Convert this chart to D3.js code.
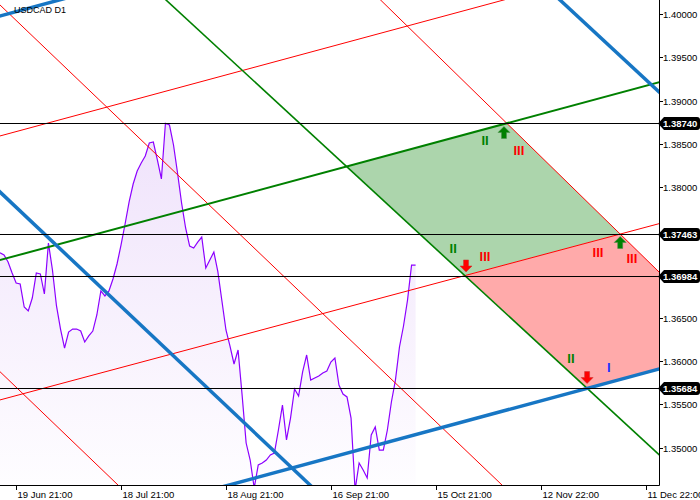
<!DOCTYPE html>
<html><head><meta charset="utf-8">
<script src="https://cdn.jsdelivr.net/npm/d3@7"></script>
<style>body{margin:0;background:#fff;} svg{display:block;font-family:"Liberation Sans",Arial,sans-serif;}</style>
</head><body><svg id="c" width="700" height="500"></svg>
<script>
// ---- data ----
const symbolTitle = "USDCAD D1";
const closes = [1.37248,1.37222,1.37141,1.37014,1.36899,1.36887,1.36622,1.36576,1.36726,1.37014,
1.37003,1.36772,1.37360,1.37049,1.36634,1.36368,1.36149,1.36334,1.36368,1.36368,
1.36345,1.36219,1.36288,1.36345,1.36530,1.36807,1.36749,1.36807,1.36945,1.37118,
1.37337,1.37579,1.37833,1.38040,1.38190,1.38282,1.38363,1.38513,1.38524,1.38317,
1.38098,1.38740,1.38720,1.38490,1.38167,1.37821,1.37533,1.37325,1.37302,1.37371,
1.37429,1.37072,1.37164,1.37256,1.37026,1.36691,1.36357,1.36172,1.35965,1.36126,
1.35608,1.35054,1.34858,1.34535,1.34801,1.34824,1.34858,1.34916,1.34939,1.35204,
1.35492,1.35089,1.35342,1.35677,1.35596,1.35873,1.36069,1.35780,1.35804,1.35827,
1.35861,1.35884,1.35988,1.36034,1.35723,1.35619,1.35585,1.35342,1.34512,1.34824,
1.34743,1.34651,1.35146,1.35239,1.34973,1.34973,1.35204,1.35527,1.35780,1.36161,
1.36403,1.36703,1.37106,1.37106];
const barDomain = [0, 163.32];
const priceDomain = [1.345700, 1.401614];
const priceTicks = [1.35,1.355,1.36,1.365,1.38,1.385,1.39,1.395,1.40];
const levels = [1.38740,1.37463,1.36984,1.35684];
const dateTickBars = [4,30,56,82,108,134,160];
const dateTickLabels = ["19 Jun 21:00","18 Jul 21:00","18 Aug 21:00","16 Sep 21:00","15 Oct 21:00","12 Nov 22:00","11 Dec 22:00"];
// lines as two points [bar, price]
const blueTop   = [[0,1.39977],[163.32,1.42028]];
const redTop    = [[0,1.38594],[163.32,1.40645]];
const greenAsc  = [[0,1.37163],[163.32,1.39214]];
const redMid    = [[115.2,1.36984],[153.7,1.37463]];
const blueBot   = [[0,1.33857],[145.5,1.35684]];
const blueDesc1 = [[0,1.37948],[163.32,1.30768]];
const blueDesc2 = [[138.79,1.401614],[163.32,1.39102]];
const greenDesc = [[115.2,1.36984],[145.5,1.35684]];
const redA      = [[0,1.40104],[124.41,1.34570]];
const redB      = [[0,1.35876],[29.24,1.34570]];
const redC      = [[125.6,1.38740],[153.7,1.37463]];
const upArrows   = [[124.9,1.38634],[153.7,1.37366]];
const downArrows = [[115.5,1.37095],[145.5,1.35809]];
const greenNumerals = [[120.2,1.38536,"II"],[112.3,1.37302,"II"],[141.5,1.36034,"II"]];
const redNumerals   = [[128.6,1.38421,"III"],[120.2,1.37199,"III"],[148.2,1.37256,"III"],[156.6,1.37187,"III"]];
const blueNumerals  = [[150.9,1.35919,"I"]];

// ---- drawing ----
const W = 659, H = 485;
const svg = d3.select("#c");
const x = d3.scaleLinear().domain(barDomain).range([0, W]);
const y = d3.scaleLinear().domain(priceDomain).range([H, 0]);

const defs = svg.append("defs");
defs.append("clipPath").attr("id","plot").append("rect").attr("x",0).attr("y",0).attr("width",W).attr("height",H);
const grad = defs.append("linearGradient").attr("id","pg").attr("gradientUnits","userSpaceOnUse")
  .attr("x1",0).attr("x2",0).attr("y1",120).attr("y2",H);
grad.append("stop").attr("offset","0").attr("stop-color","#efe2fb");
grad.append("stop").attr("offset","1").attr("stop-color","#fefdff");

const plot = svg.append("g").attr("clip-path","url(#plot)");

function priceAt(l, b){ const [[b1,p1],[b2,p2]] = l; return p1 + (p2-p1)*(b-b1)/(b2-b1); }
function inter(l1, l2){
  const s1 = (l1[1][1]-l1[0][1])/(l1[1][0]-l1[0][0]);
  const s2 = (l2[1][1]-l2[0][1])/(l2[1][0]-l2[0][0]);
  const c1 = l1[0][1]-s1*l1[0][0], c2 = l2[0][1]-s2*l2[0][0];
  const b = (c2-c1)/(s1-s2);
  return [b, c1+s1*b];
}

// price area + line
const idx = closes.map((c,i)=>i);
plot.append("path").datum(idx)
  .attr("d", d3.area().x(i=>x(i)).y0(H).y1(i=>y(closes[i])))
  .attr("fill","url(#pg)");

// zones
const bMax = barDomain[1];
const greenZone = [inter(greenAsc,greenDesc), inter(greenAsc,redC), inter(redC,redMid), inter(redMid,greenDesc)];
const redZone = [inter(redMid,greenDesc), inter(redMid,redC), [bMax, priceAt(redC,bMax)], [bMax, priceAt(blueBot,bMax)], inter(blueBot,greenDesc)];
const poly = d3.line().x(d=>x(d[0])).y(d=>y(d[1]));
plot.append("path").attr("d", poly(greenZone)+"Z").attr("fill","#acd5ac");
plot.append("path").attr("d", poly(redZone)+"Z").attr("fill","#ffaaaa");

plot.append("path").datum(idx)
  .attr("d", d3.line().x(i=>x(i)).y(i=>y(closes[i])))
  .attr("fill","none").attr("stroke","#8c00ff").attr("stroke-width",1.2);

function drawLine(l, color, width){
  const b0 = -20, b1 = 185;
  plot.append("line")
    .attr("x1", x(b0)).attr("y1", y(priceAt(l,b0)))
    .attr("x2", x(b1)).attr("y2", y(priceAt(l,b1)))
    .attr("stroke", color).attr("stroke-width", width);
}
[redTop, redMid, redA, redB, redC].forEach(l=>drawLine(l,"#ff0000",1));
[greenAsc].forEach(l=>drawLine(l,"#008000",2));
[greenDesc].forEach(l=>drawLine(l,"#008000",1.6));
[blueTop, blueBot, blueDesc1, blueDesc2].forEach(l=>drawLine(l,"#1776c4",3.5));

// horizontal levels
plot.selectAll(".lvl").data(levels).enter().append("line")
  .attr("x1",0).attr("x2",W).attr("y1",d=>Math.round(y(d))+0.5).attr("y2",d=>Math.round(y(d))+0.5)
  .attr("stroke","#000").attr("stroke-width",1);

// arrows
const upPath = "M0,-6 L6,0 L2.5,0 L2.5,6 L-2.5,6 L-2.5,0 L-6,0 Z";
const downPath = "M0,6 L6,0 L2.5,0 L2.5,-6 L-2.5,-6 L-2.5,0 L-6,0 Z";
plot.selectAll(".ua").data(upArrows).enter().append("path")
  .attr("d",upPath).attr("transform",d=>`translate(${x(d[0])},${y(d[1])})`)
  .attr("fill","#008000").attr("stroke","#4c8c4c").attr("stroke-width",0.5);
plot.selectAll(".da").data(downArrows).enter().append("path")
  .attr("d",downPath).attr("transform",d=>`translate(${x(d[0])},${y(d[1])})`)
  .attr("fill","#ff0000").attr("stroke","#c83030").attr("stroke-width",0.5);

// numerals
function numerals(arr, color){
  plot.selectAll(null).data(arr).enter().append("text")
    .attr("x",d=>x(d[0])).attr("y",d=>y(d[1])).attr("text-anchor","middle")
    .attr("dominant-baseline","central").attr("font-size",13).attr("font-weight","bold")
    .attr("fill",color).text(d=>d[2]);
}
numerals(greenNumerals,"#008000");
numerals(redNumerals,"#ff0000");
numerals(blueNumerals,"#1a33ff");

// title
svg.append("text").attr("x",14).attr("y",12.5).attr("font-size",9).attr("fill","#000").text(symbolTitle);

// axes
svg.append("line").attr("x1",W+0.5).attr("x2",W+0.5).attr("y1",0).attr("y2",H+0.5).attr("stroke","#000");
svg.append("line").attr("x1",0).attr("x2",W+0.5).attr("y1",H+0.5).attr("y2",H+0.5).attr("stroke","#000");

const yt = svg.append("g");
priceTicks.forEach(p=>{
  const py = Math.round(y(p))+0.5;
  yt.append("line").attr("x1",W).attr("x2",W+4).attr("y1",py).attr("y2",py).attr("stroke","#000");
  yt.append("text").attr("x",W+4).attr("y",py).attr("dominant-baseline","central")
    .attr("font-size",9.5).attr("fill","#000").text(p.toFixed(5));
});
levels.forEach(p=>{
  const py = Math.round(y(p))+0.5;
  yt.append("path").attr("d",`M${W-1},${py} L${W+5},${py-6.5} L${697},${py-6.5} Q700,${py-6.5} 700,${py-3.5} L700,${py+3.5} Q700,${py+6.5} 697,${py+6.5} L${W+5},${py+6.5} Z`)
    .attr("fill","#000");
  yt.append("text").attr("x",W+4).attr("y",py).attr("dominant-baseline","central")
    .attr("font-size",9.5).attr("fill","#fff").attr("font-weight","bold").text(p.toFixed(5));
});

const xt = svg.append("g");
dateTickBars.forEach((b,i)=>{
  const px = Math.round(x(b))+0.5;
  xt.append("line").attr("x1",px).attr("x2",px).attr("y1",H).attr("y2",H+5).attr("stroke","#000");
  xt.append("text").attr("x",px+1).attr("y",H+12.5).attr("font-size",9.5).attr("fill","#000").text(dateTickLabels[i]);
});
</script></body></html>
